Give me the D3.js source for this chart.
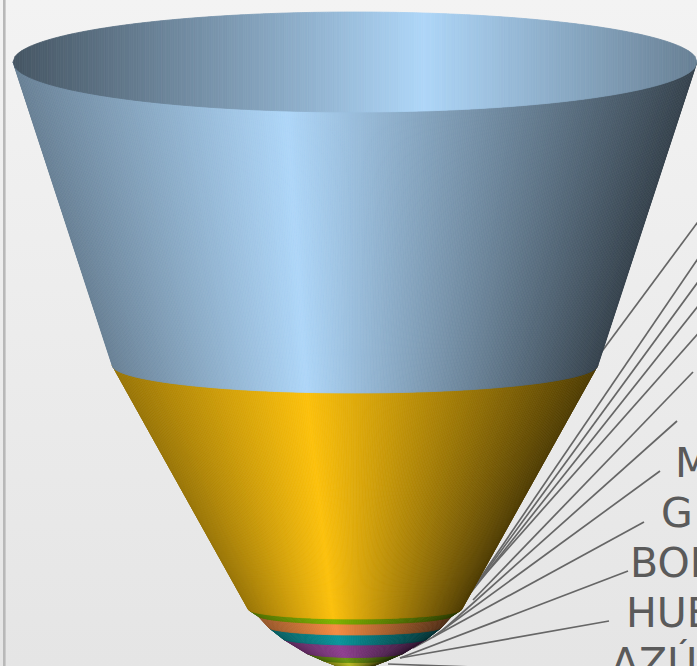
<!DOCTYPE html>
<html>
<head>
<meta charset="utf-8">
<style>
  html, body { margin: 0; padding: 0; background: #eee; overflow: hidden; }
  svg { display: block; }
</style>
<script src="https://cdn.jsdelivr.net/npm/d3@7"></script>
</head>
<body>
<svg id="chart" width="697" height="666"></svg>
<script>
// Stage sizes, top of the funnel to the tip
const stageValues = [303, 244, 6, 12, 11, 14, 8, 8];
// Funnel half width at each stage boundary
const stageWidths = [342, 243, 107, 98, 87, 73, 50, 33, 12];
// Peak shade of each stage
const stageColors = ["#aed6f8", "#fcc10d", "#7fb200", "#f58c42", "#0a959b", "#8f3f90", "#6b9410", "#b9b925"];

// Category labels as far as they fit in the frame
const labelNames = ["M", "G", "BOL", "HUE", "AZÚ"];
const labelRows = [0, 1, 2, 3, 4];
const labelStarts = [675, 661, 630, 626, 611];

// Leader lines: where they leave the funnel and where they head to
const leaderFrom = [[600, 354], [468, 596], [468, 596], [468, 596], [466, 596], [473, 600], [443, 630], [433, 637], [413, 648], [400, 658], [400, 658], [388, 664]];
const leaderTo = [[723, 188], [725, 219], [725, 245], [725, 272], [725, 303], [693, 372], [677, 421], [660, 471], [644, 522], [628, 571], [609, 621], [500, 668]];

const W = 697, H = 666;
const svg = d3.select("#chart");
const defs = svg.append("defs");

const bg = defs.append("linearGradient").attr("id", "panel")
  .attr("x1", 0).attr("y1", 0).attr("x2", 0).attr("y2", 1);
bg.append("stop").attr("offset", 0).attr("stop-color", "#f3f3f3");
bg.append("stop").attr("offset", 1).attr("stop-color", "#e5e5e5");

svg.append("rect").attr("width", W).attr("height", H).attr("fill", "url(#panel)");
svg.append("rect").attr("x", 3).attr("y", 0).attr("width", 2.6).attr("height", H).attr("fill", "#b8b8b8");

// Scales: cumulative value to height, half width to rim depth
const cumulative = [0, ...d3.cumsum(stageValues)];
const y = d3.scaleLinear().domain([0, d3.sum(stageValues)]).range([62, 668]);
const depth = d3.scaleLinear().domain([0, 33, 50, 73, 87, 107, 243, 342]).range([1, 2.5, 5.5, 7, 8, 10, 28, 50]);
const cx = 355;

const rims = cumulative.map((c, i) => ({ y: y(c), r: stageWidths[i], ry: depth(stageWidths[i]) }));

// Shading across the width: bright peak off centre, dark towards both sides
function shade(color, peakAt, leftFactor, rightFactor) {
  const c = d3.rgb(color);
  const scaled = f => d3.rgb(c.r * f, c.g * f, c.b * f);
  return d3.scaleLinear()
    .domain([0, peakAt, 1])
    .range([scaled(leftFactor), c, scaled(rightFactor)])
    .interpolate(d3.interpolateRgb);
}

// Point on a rim at fraction u of its width; sign picks the front or back arc
function rimPoint(rim, u, sign) {
  const t = 2 * u - 1;
  return [cx + rim.r * t, rim.y + sign * rim.ry * Math.sqrt(Math.max(0, 1 - t * t))];
}

// Thin facets between two arcs, each filled with its own shade
function facets(layer, upper, upperSign, lower, lowerSign, colorAt, count) {
  const steps = d3.range(count);
  layer.selectAll("path").data(steps).join("path")
    .attr("d", i => {
      const u0 = i / count, u1 = (i + 1) / count;
      const pts = [rimPoint(upper, u0, upperSign), rimPoint(upper, u1, upperSign),
                   rimPoint(lower, u1, lowerSign), rimPoint(lower, u0, lowerSign)];
      return "M" + pts.map(p => p.map(v => v.toFixed(2)).join(",")).join("L") + "Z";
    })
    .attr("fill", i => colorAt((i + 0.5) / count))
    .attr("stroke", i => colorAt((i + 0.5) / count))
    .attr("stroke-width", 0.8);
}

// Leader lines run behind the funnel
svg.append("g").selectAll("line").data(leaderFrom).join("line")
  .attr("x1", d => d[0]).attr("y1", d => d[1])
  .attr("x2", (d, i) => leaderTo[i][0]).attr("y2", (d, i) => leaderTo[i][1])
  .attr("stroke", "#666").attr("stroke-width", 1.7);

// Stages are painted from the tip upward so each front arc overlaps the one below
const funnel = svg.append("g");
d3.range(stageValues.length).reverse().forEach(i => {
  const count = Math.max(60, Math.round(rims[i].r));
  const colorAt = shade(stageColors[i], 0.4, 0.6, 0.31);
  facets(funnel.append("g"), rims[i], 1, rims[i + 1], 1, colorAt, count);
});

// Open mouth of the funnel, seen from above with the shading mirrored
const mouthColor = shade(stageColors[0], 0.6, 0.4, 0.6);
facets(funnel.append("g"), rims[0], -1, rims[0], 1, mouthColor, 300);

// Category labels, clipped by the frame
const labelY = d3.scalePoint().domain(labelRows).range([477, 677]);
svg.append("g").selectAll("text").data(labelNames).join("text")
  .attr("x", (d, i) => labelStarts[i])
  .attr("y", (d, i) => labelY(labelRows[i]))
  .attr("font-family", "'DejaVu Sans', sans-serif")
  .attr("font-size", 41)
  .attr("fill", "#5a5a5a")
  .text(d => d);
</script>
</body>
</html>
